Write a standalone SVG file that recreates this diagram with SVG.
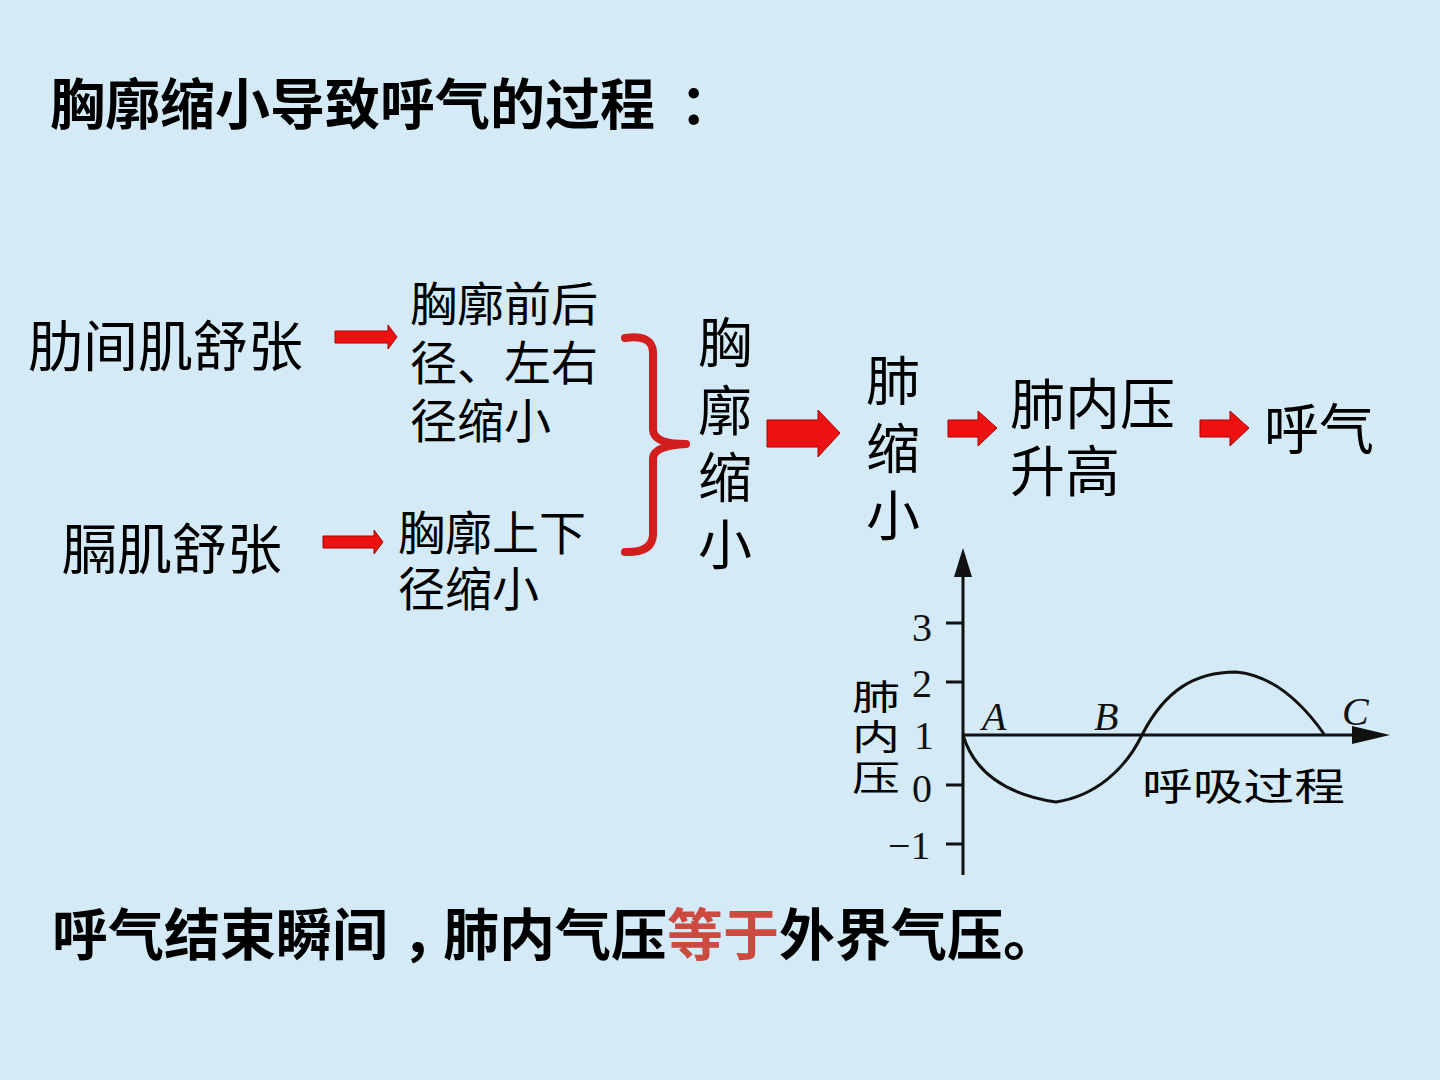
<svg xmlns="http://www.w3.org/2000/svg" width="1440" height="1080" viewBox="0 0 1440 1080">
<defs>
<style>
.t{font-family:"Noto Sans CJK SC","Noto Sans",sans-serif;fill:#000}
.b{font-weight:bold}
.s{font-family:"Liberation Serif","Noto Sans CJK SC",serif;fill:#111}
.arr{fill:#ee1111;stroke:#aa0000;stroke-width:1}
.ax{stroke:#111;stroke-width:3;fill:none}
</style>
</defs>
<rect width="1440" height="1080" fill="#d4eaf6"/>
<g id="title"><text class="t b" x="50" y="124" font-size="55">胸廓缩小导致呼气的过程<tspan dx="25">：</tspan></text></g>

<g id="n-ribs"><text class="t" x="28" y="366" font-size="55">肋间肌舒张</text></g>
<g id="n-diaphragm"><text class="t" x="62" y="569" font-size="55">膈肌舒张</text></g>
<g id="n-frontback"><text class="t" font-size="47"><tspan x="410" y="321">胸廓前后</tspan><tspan x="410" y="380">径、左右</tspan><tspan x="410" y="438">径缩小</tspan></text></g>
<g id="n-updown"><text class="t" font-size="47"><tspan x="398" y="550">胸廓上下</tspan><tspan x="398" y="606">径缩小</tspan></text></g>
<g id="n-chest"><text class="t" font-size="54"><tspan x="698" y="363">胸</tspan><tspan x="698" y="431">廓</tspan><tspan x="698" y="498">缩</tspan><tspan x="698" y="565">小</tspan></text></g>
<g id="n-lung"><text class="t" font-size="54"><tspan x="866" y="401">肺</tspan><tspan x="866" y="469">缩</tspan><tspan x="866" y="536">小</tspan></text></g>
<g id="n-pressure"><text class="t" font-size="55"><tspan x="1010" y="424">肺内压</tspan><tspan x="1010" y="491">升高</tspan></text></g>
<g id="n-exhale"><text class="t" font-size="55" x="1264" y="449">呼气</text></g>

<g id="connectors">
<polygon class="arr" points="335,331 388,331 388,325 397,337 388,349 388,343 335,343"/>
<polygon class="arr" points="323,536 374,536 374,530 383,542 374,554 374,548 323,548"/>
<polygon class="arr" points="767,420 818,420 818,410 840,433 818,457 818,447 767,447"/>
<polygon class="arr" points="948,420 978,420 978,411 997,428 978,446 978,437 948,437"/>
<polygon class="arr" points="1200,420 1230,420 1230,411 1249,428 1230,446 1230,437 1200,437"/>
<path d="M625,338 Q652,334 653,352 L653,430 Q654,444 686,444 Q654,446 653,458 L653,535 Q652,553 625,552" fill="none" stroke="#d41e1e" stroke-width="8" stroke-linecap="round" stroke-linejoin="round"/>
</g>

<g id="graph">
<line class="ax" x1="963" y1="875" x2="963" y2="570"/>
<polygon points="963,548 954,577 972,577" fill="#111"/>
<line class="ax" x1="963" y1="735" x2="1365" y2="735"/>
<polygon points="1390,735 1352,726 1352,744" fill="#111"/>
<g stroke="#111" stroke-width="3">
<line x1="946" y1="623" x2="963" y2="623"/>
<line x1="946" y1="682" x2="963" y2="682"/>
<line x1="946" y1="785" x2="963" y2="785"/>
<line x1="946" y1="844" x2="963" y2="844"/>
</g>
<g class="s" font-size="40">
<text x="912" y="641">3</text>
<text x="912" y="697">2</text>
<text x="914" y="749">1</text>
<text x="912" y="802">0</text>
<text x="888" y="859">−1</text>
</g>
<g class="t">
<text font-size="35" transform="translate(852,0) scale(1.37,1)"><tspan x="0" y="710">肺</tspan><tspan x="0" y="750">内</tspan><tspan x="0" y="791">压</tspan></text>
<text x="1142" y="800" font-size="38" textLength="203" lengthAdjust="spacingAndGlyphs">呼吸过程</text>
</g>
<g class="s" font-size="40" font-style="italic">
<text x="982" y="730">A</text>
<text x="1094" y="730">B</text>
<text x="1342" y="725">C</text>
</g>
<path class="ax" d="M963,735 C975,775 1010,795 1056,802 C1095,796 1125,770 1142,735 C1165,690 1195,672 1236,672 C1270,675 1300,700 1324,734"/>
</g>

<g id="footer"><text class="t b" x="52" y="955" font-size="56">呼气结束瞬间<tspan dx="14">，</tspan><tspan dx="-15">肺内气压</tspan><tspan fill="#cc4a40">等于</tspan>外界气压。</text></g>
</svg>
